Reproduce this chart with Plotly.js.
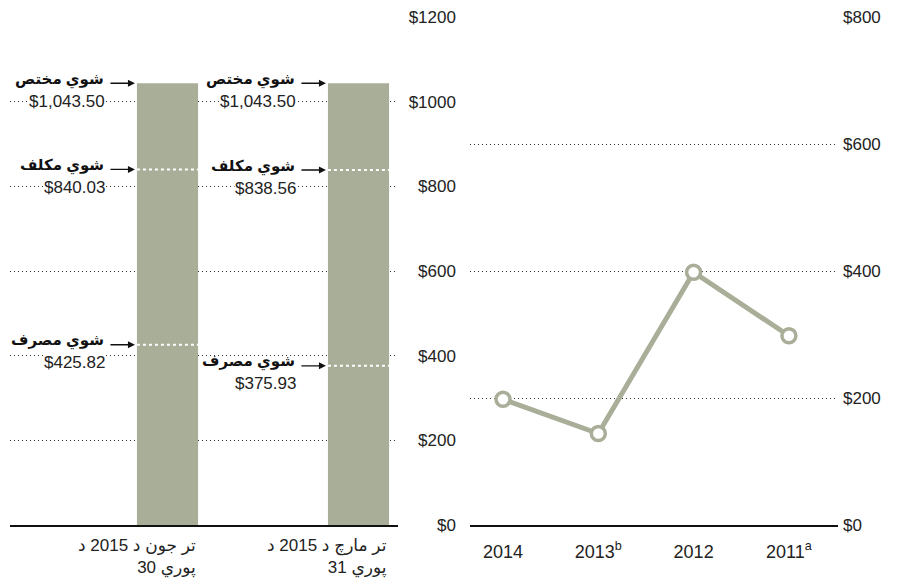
<!DOCTYPE html>
<html>
<head>
<meta charset="utf-8">
<script src="https://cdn.plot.ly/plotly-3.0.1.min.js"></script>
<style>html,body{margin:0;padding:0;background:#fff;}#chart{width:898px;height:585px;}</style>
</head>
<body>
<div id="chart"></div>
<script>
// ---- data ----
const LRM = "\u200E"; // keeps word order left-to-right as in the reference
const periods = [
  "د" + LRM + " 2015 د" + LRM + " جون" + LRM + " تر" + LRM + "<br>30 پوري" + LRM,
  "د" + LRM + " 2015 د" + LRM + " مارچ" + LRM + " تر" + LRM + "<br>31 پوري" + LRM
];
const allotted  = [1043.50, 1043.50];
const obligated = [840.03, 838.56];
const disbursed = [425.82, 375.93];
const stageLabels = ["مختص" + LRM + " شوي", "مكلف" + LRM + " شوي", "مصرف" + LRM + " شوي"];

const years  = ["2014", "2013<sup>b</sup>", "2012", "2011<sup>a</sup>"];
const yearValues = [198, 144, 398, 298];

const leftTicks  = [0, 200, 400, 600, 800, 1000, 1200];
const rightTicks = [0, 200, 400, 600, 800];

// ---- styles ----
const GREEN = "#a9ae99";
const FONT = "Liberation Sans, Arial, DejaVu Sans, sans-serif";
const barW = 0.32;
const barIdx = periods.map((_, i) => i);

function money(v) {
  return "$" + v.toLocaleString("en-US", {minimumFractionDigits: 2, maximumFractionDigits: 2});
}
function tickMoney(v) { return "$" + v; }

const traces = [
  {
    type: "bar", x: barIdx, y: allotted, width: barW,
    marker: {color: GREEN}, xaxis: "x", yaxis: "y", hoverinfo: "skip", showlegend: false
  },
  {
    type: "scatter", mode: "lines+markers", x: years, y: yearValues,
    xaxis: "x2", yaxis: "y2", showlegend: false,
    line: {color: GREEN, width: 5},
    marker: {symbol: "circle", size: 14, color: "#ffffff", line: {color: GREEN, width: 3.5}}
  }
];

const annotations = [];
const shapes = [];
barIdx.forEach(i => {
  const stages = [allotted[i], obligated[i], disbursed[i]];
  const xl = i - barW / 2;
  stages.forEach((v, k) => {
    annotations.push({
      xref: "x", yref: "y", x: xl, y: v, text: "", showarrow: true,
      ax: -28, ay: 0, arrowhead: 2, arrowsize: 1, arrowwidth: 1.4, arrowcolor: "#111", standoff: 2
    });
    annotations.push({
      xref: "x", yref: "y", x: xl, y: v, xshift: -31, yshift: 4,
      xanchor: "right", yanchor: "middle", showarrow: false,
      text: "<b>" + stageLabels[k] + "</b>",
      font: {family: FONT, size: 15, color: "#111"}
    });
    annotations.push({
      xref: "x", yref: "y", x: xl, y: v, xshift: -31, yshift: -18,
      xanchor: "right", yanchor: "middle", showarrow: false,
      text: money(v), font: {family: FONT, size: 17, color: "#222"}, bgcolor: "#ffffff", borderpad: 0
    });
    if (k > 0) {
      shapes.push({
        type: "line", xref: "x", yref: "y", x0: xl, x1: i + barW / 2, y0: v, y1: v,
        line: {color: "#ffffff", width: 2, dash: "dot"}
      });
    }
  });
  annotations.push({
    xref: "x", yref: "paper", x: i + barW / 2, y: 0, yshift: -9,
    xanchor: "right", yanchor: "top", align: "right", showarrow: false,
    text: periods[i], font: {family: FONT, size: 17, color: "#222"}
  });
});

const layout = {
  width: 898, height: 585,
  margin: {l: 10, r: 60, t: 17, b: 60},
  paper_bgcolor: "#ffffff", plot_bgcolor: "rgba(0,0,0,0)",
  font: {family: FONT, size: 17, color: "#222"},
  showlegend: false,
  xaxis: {
    domain: [0, 0.4686], range: [-0.8246, 1.2068], type: "linear",
    showticklabels: false, showgrid: false, zeroline: false,
    showline: true, linecolor: "#111", linewidth: 2, ticks: "", fixedrange: true
  },
  yaxis: {
    anchor: "free", position: 0.541, side: "left",
    range: [0, 1200], tickmode: "array", tickvals: leftTicks, ticktext: leftTicks.map(tickMoney), ticks: "",
    showgrid: true, gridcolor: "#333", gridwidth: 1, griddash: "1px,3px",
    zeroline: false, showline: false, ticklabelstandoff: 2,
    tickfont: {family: FONT, size: 17, color: "#222"}
  },
  xaxis2: {
    domain: [0.5556, 1], anchor: "y2", type: "category", range: [-0.346, 3.515],
    showgrid: false, zeroline: false, showline: true, linecolor: "#111", linewidth: 2,
    ticks: "", ticklabelstandoff: 9,
    tickfont: {family: FONT, size: 18, color: "#222"}
  },
  yaxis2: {
    anchor: "x2", side: "right", range: [0, 800], tickmode: "array", tickvals: rightTicks, ticktext: rightTicks.map(tickMoney), ticks: "",
    showgrid: true, gridcolor: "#333", gridwidth: 1, griddash: "1px,3px",
    zeroline: false, showline: false, ticklabelstandoff: 4,
    tickfont: {family: FONT, size: 17, color: "#222"}
  },
  annotations: annotations,
  shapes: shapes
};

Plotly.newPlot("chart", traces, layout, {staticPlot: true, displayModeBar: false});
</script>
</body>
</html>
